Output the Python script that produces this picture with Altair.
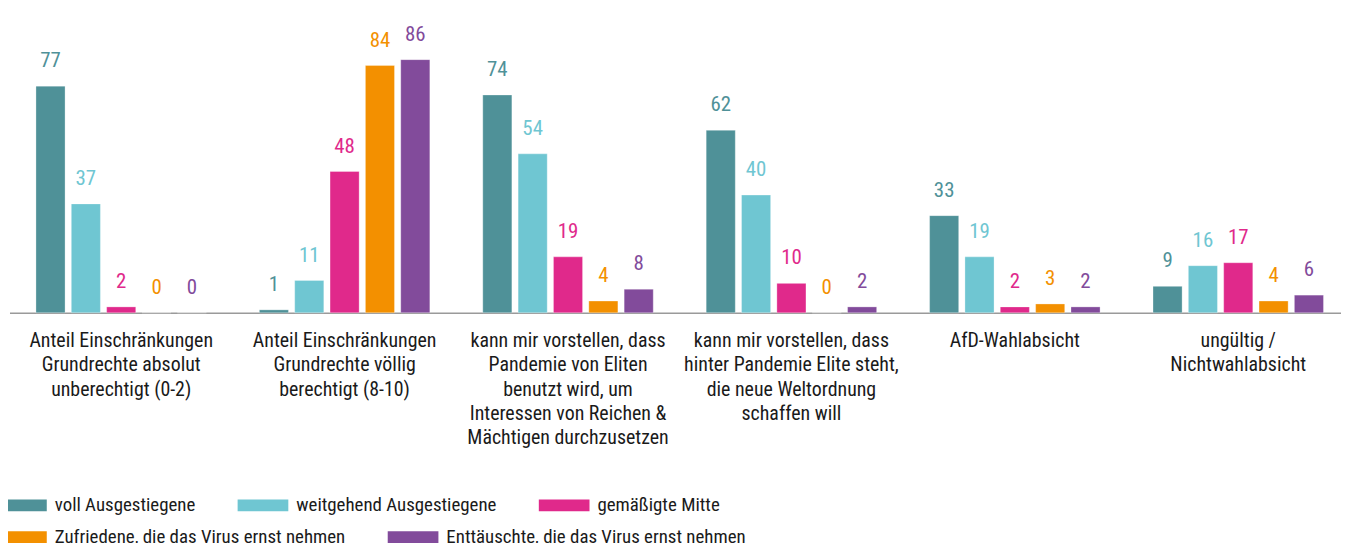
import altair as alt
import pandas as pd

categories = [
    "Anteil Einschränkungen|Grundrechte absolut|unberechtigt (0-2)",
    "Anteil Einschränkungen|Grundrechte völlig|berechtigt (8-10)",
    "kann mir vorstellen, dass|Pandemie von Eliten|benutzt wird, um|Interessen von Reichen &|Mächtigen durchzusetzen",
    "kann mir vorstellen, dass|hinter Pandemie Elite steht,|die neue Weltordnung|schaffen will",
    "AfD-Wahlabsicht",
    "ungültig /|Nichtwahlabsicht",
]
series = [
    "voll Ausgestiegene",
    "weitgehend Ausgestiegene",
    "gemäßigte Mitte",
    "Zufriedene, die das Virus ernst nehmen",
    "Enttäuschte, die das Virus ernst nehmen",
]
voll = [77, 1, 74, 62, 33, 9]
weitgehend = [37, 11, 54, 40, 19, 16]
mitte = [2, 48, 19, 10, 2, 17]
zufriedene = [0, 84, 4, 0, 3, 4]
enttaeuschte = [0, 86, 8, 2, 2, 6]
colors = ["#4f9198", "#6fc6d2", "#e0298b", "#f39000", "#824b9b"]

rows = []
for s, vals in zip(series, [voll, weitgehend, mitte, zufriedene, enttaeuschte]):
    for c, v in zip(categories, vals):
        rows.append({"cat": c, "series": s, "value": v})
df = pd.DataFrame(rows)

FONT = "Roboto Condensed, Roboto, sans-serif"

x = alt.X("cat:N", sort=categories, title=None,
          scale=alt.Scale(range=[1.5, 1350], paddingInner=0, paddingOuter=0),
          axis=alt.Axis(labelExpr="split(datum.label, '|')", labelAngle=0,
                        labelFontSize=20, labelFont=FONT, labelColor="#1a1a1a",
                        labelLineHeight=24.5, labelPadding=18, ticks=False, labelLimit=400,
                        domainColor="#9a9a9a", domainWidth=1.5, labelBaseline="top"))
xo = alt.XOffset("series:N", sort=series,
                 scale=alt.Scale(domain=series, paddingInner=0.177, paddingOuter=0.749))
y = alt.Y("value:Q", scale=alt.Scale(domain=[0, 103], nice=False), axis=None)


def legend(ypos):
    return alt.Legend(orient="none", legendX=-12, legendY=ypos, direction="horizontal",
                      symbolType="M-1,-0.235H1V0.235H-1Z", symbolSize=2601,
                      symbolStrokeWidth=0, labelOffset=8, columnPadding=42,
                      labelFontSize=19, labelFont=FONT,
                      labelColor="#1a1a1a", labelLimit=400)


groups = [(series[:3], colors[:3], 473), (series[3:], colors[3:], 505)]
layers = []
for names, cols, ypos in groups:
    cscale = alt.Scale(domain=names, range=cols)
    base = alt.Chart(df).transform_filter(
        alt.FieldOneOfPredicate(field="series", oneOf=names))
    bars = base.mark_bar(stroke="white", strokeWidth=0.6, strokeOpacity=0.5).encode(
        x=x, xOffset=xo, y=y,
        color=alt.Color("series:N", scale=cscale, sort=names, title=None, legend=legend(ypos)),
    )
    layers.append(bars)
for names, cols, ypos in groups:
    cscale = alt.Scale(domain=names, range=cols)
    base = alt.Chart(df).transform_filter(
        alt.FieldOneOfPredicate(field="series", oneOf=names))
    text = base.mark_text(dy=-19, baseline="alphabetic", fontSize=21, font=FONT).encode(
        x=x, xOffset=xo, y=y,
        text=alt.Text("value:Q"),
        color=alt.Color("series:N", scale=cscale, legend=None),
    )
    layers.append(text)

chart = (
    alt.layer(*layers)
    .resolve_scale(color="independent")
    .resolve_legend(color="independent")
    .properties(width=1341, height=305,
                padding={"left": 0, "top": 0, "right": 0, "bottom": 235},
                autosize=alt.AutoSizeParams(type="none"))
    .configure_view(stroke=None)
)
chart.save("out.html", embed_options={"renderer": "svg", "actions": False})
